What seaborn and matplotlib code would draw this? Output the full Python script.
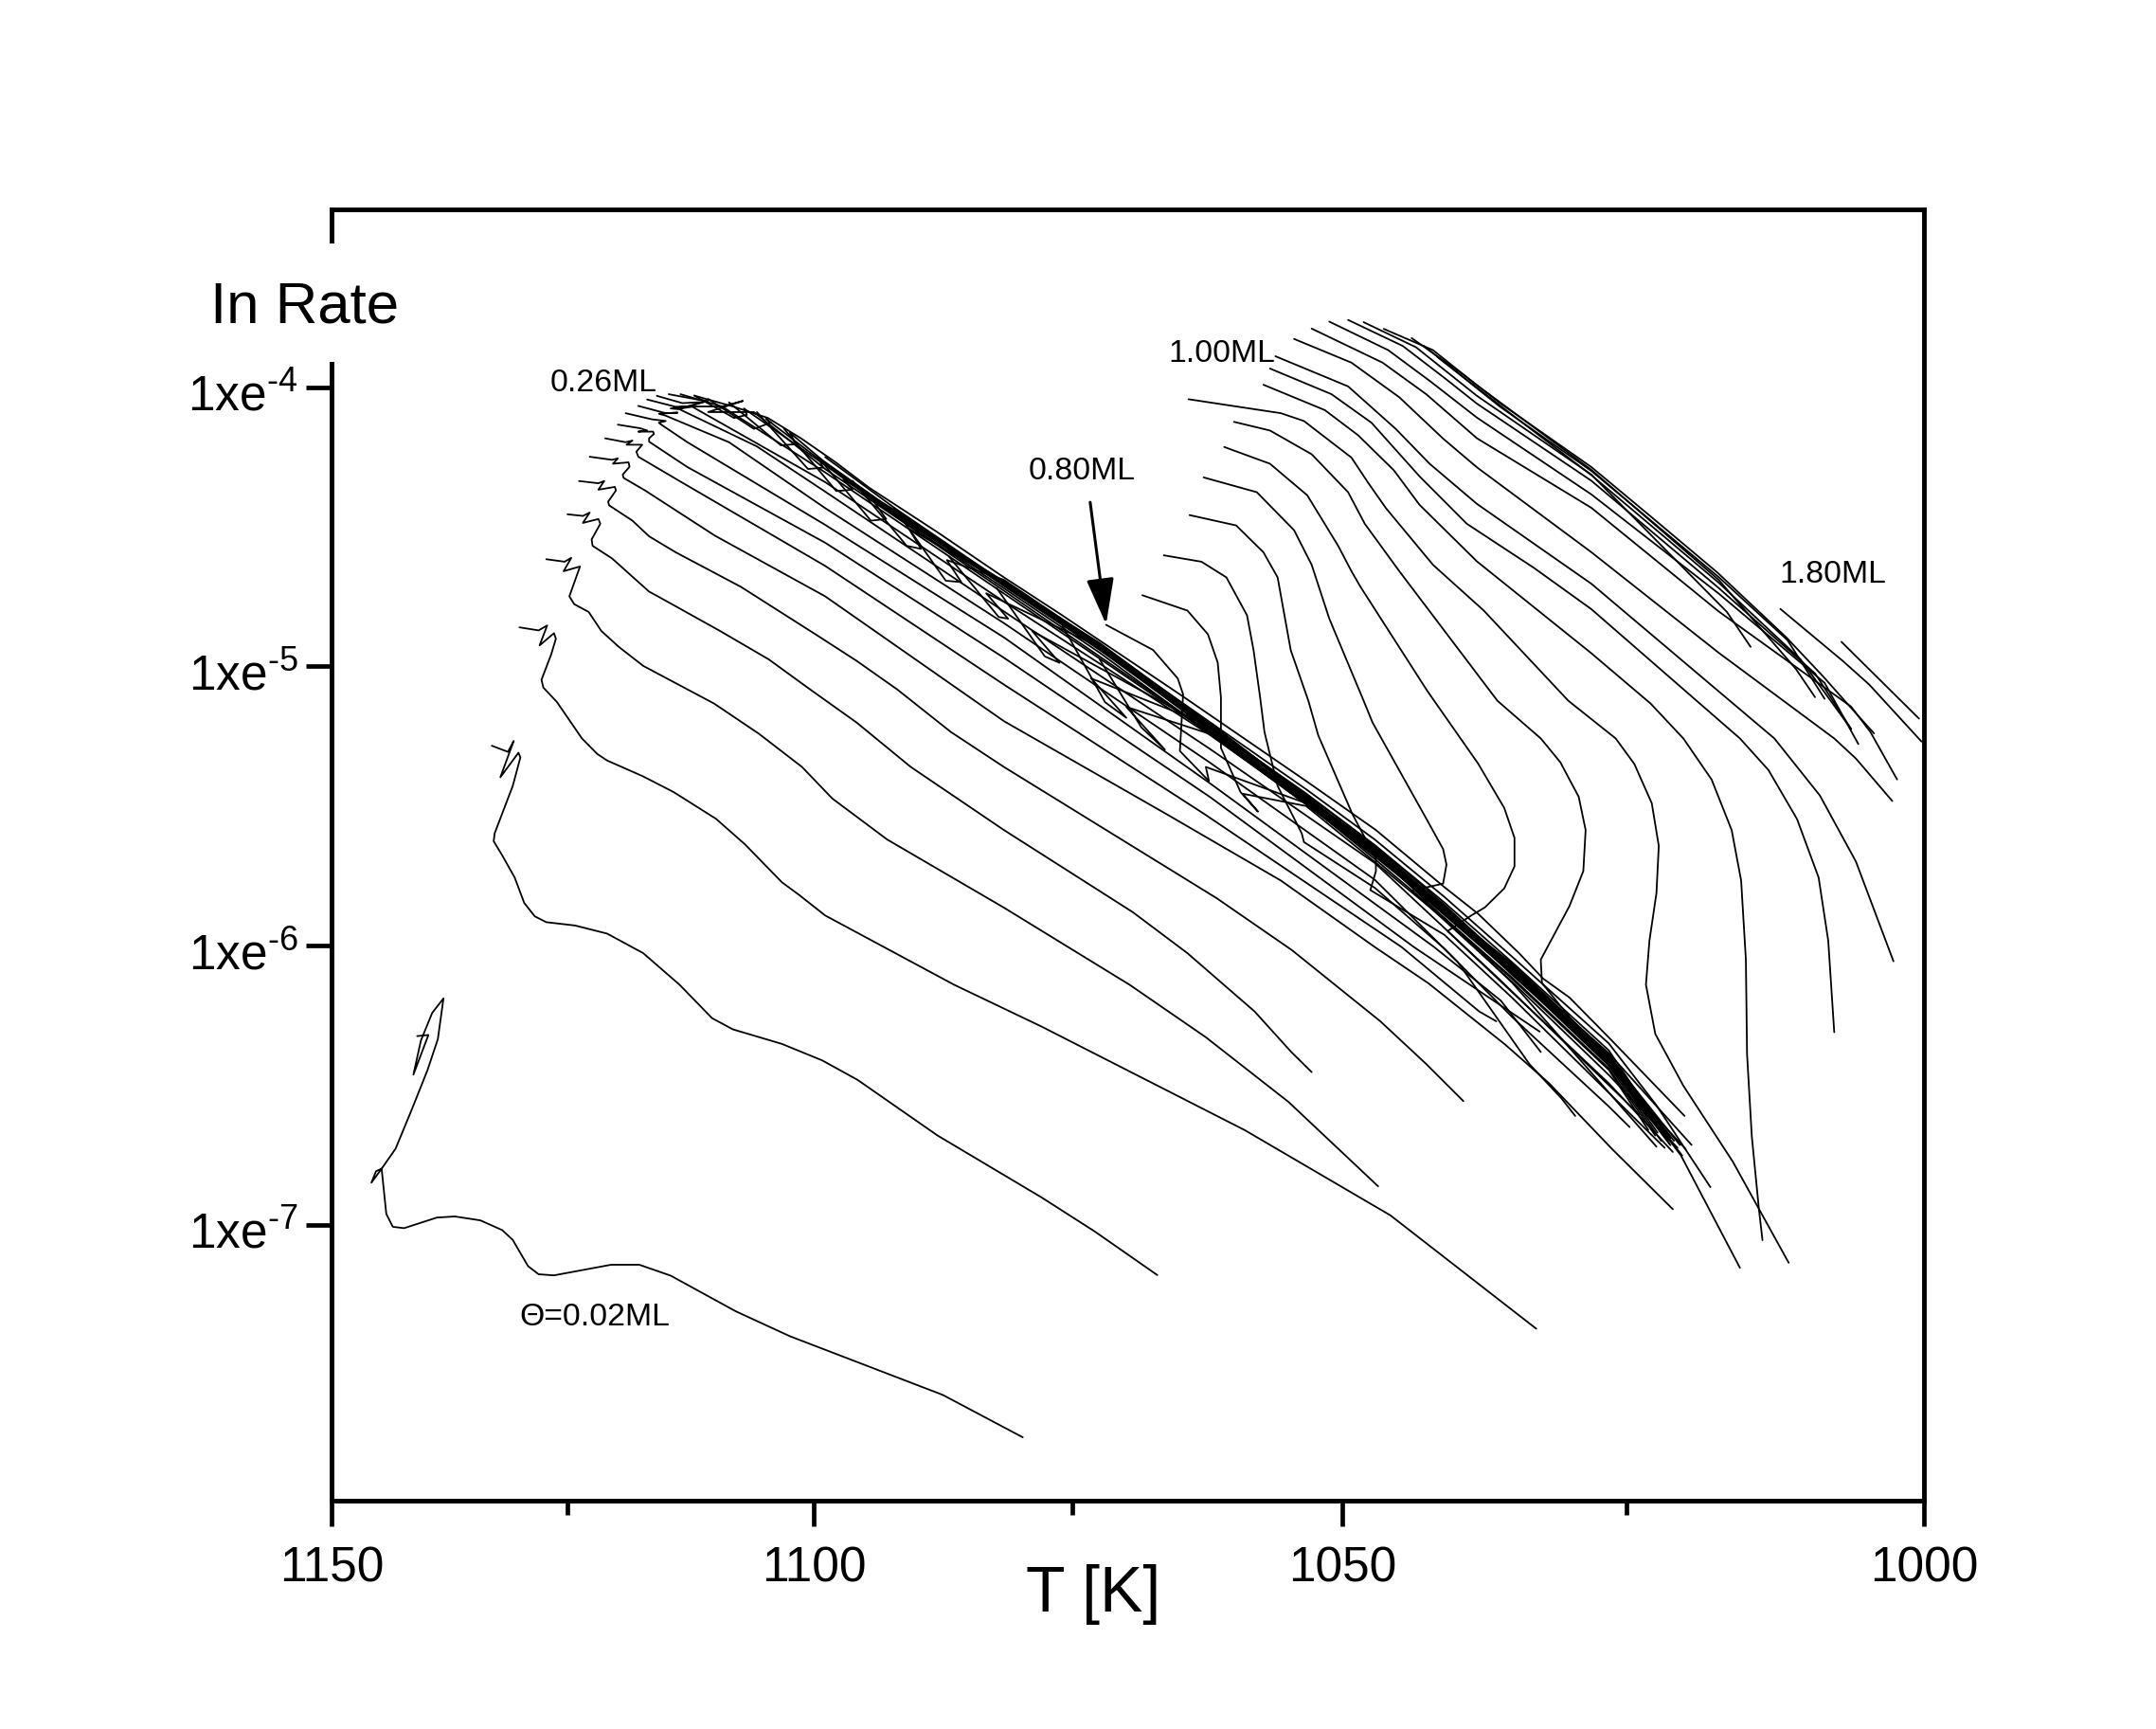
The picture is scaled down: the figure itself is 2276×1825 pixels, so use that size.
import matplotlib
matplotlib.use('Agg')
import matplotlib.pyplot as plt
from matplotlib.patches import Rectangle
from matplotlib.ticker import FixedLocator, FixedFormatter, NullLocator
from matplotlib.transforms import ScaledTranslation
import numpy as np
import pandas as pd
import seaborn as sns

# T in K, r in log10(rate). Labelled by coverage as far as can be counted
t_002 = [1140.8, 1139.6, 1141.2, 1140.4, 1139.2, 1138.0, 1138.6, 1139.7, 1141.3, 1143.1, 1144.6, 1145.7, 1145.2, 1144.6, 1144.1, 1143.4, 1142.2, 1138.7, 1136.8, 1134.1, 1131.8, 1130.7, 1129.1, 1128.0, 1126.4, 1120.5, 1117.6, 1114.4, 1107.8, 1102.4, 1087.4, 1079.7]
r_002 = [-6.324, -6.320, -6.462, -6.340, -6.241, -6.189, -6.335, -6.446, -6.581, -6.727, -6.799, -6.849, -6.808, -6.799, -6.961, -7.007, -7.012, -6.974, -6.970, -6.984, -7.019, -7.054, -7.148, -7.177, -7.181, -7.143, -7.143, -7.182, -7.310, -7.399, -7.609, -7.761]
t_004 = [1132.9, 1131.2, 1130.6, 1132.0, 1130.1, 1129.9, 1130.7, 1132.6, 1132.7, 1131.8, 1130.5, 1129.5, 1128.4, 1127.2, 1124.2, 1120.9, 1117.2, 1113.5, 1110.2, 1108.1, 1103.2, 1099.2, 1095.7, 1087.9, 1077.9, 1072.9, 1067.0]
r_004 = [-5.284, -5.306, -5.267, -5.397, -5.309, -5.326, -5.428, -5.598, -5.626, -5.677, -5.756, -5.847, -5.895, -5.916, -5.928, -5.957, -6.027, -6.140, -6.260, -6.300, -6.352, -6.411, -6.481, -6.680, -6.902, -7.023, -7.180]
t_006 = [1130.0, 1128.0, 1127.1, 1127.9, 1126.4, 1126.2, 1126.7, 1127.7, 1127.5, 1126.1, 1123.5, 1121.9, 1120.9, 1117.2, 1114.1, 1109.8, 1106.9, 1103.2, 1101.5, 1098.9, 1086.3, 1077.9, 1058.9, 1045.7, 1032.8]
r_006 = [-4.860, -4.871, -4.853, -4.925, -4.881, -4.901, -4.958, -5.048, -5.076, -5.127, -5.258, -5.314, -5.337, -5.394, -5.450, -5.546, -5.637, -5.773, -5.818, -5.892, -6.140, -6.290, -6.661, -6.966, -7.372]
t_008 = [1127.2, 1125.3, 1124.6, 1125.4, 1123.7, 1124.8, 1124.3, 1122.8, 1121.5, 1119.7, 1117.2, 1110.0, 1105.5, 1101.2, 1098.2, 1092.8, 1081.5, 1069.6, 1062.5, 1054.9, 1046.8]
r_008 = [-4.616, -4.625, -4.611, -4.659, -4.642, -4.749, -4.777, -4.805, -4.873, -4.930, -4.998, -5.133, -5.241, -5.360, -5.473, -5.620, -5.864, -6.140, -6.328, -6.560, -6.862]
t_010 = [1125.0, 1123.4, 1122.7, 1123.4, 1121.8, 1121.6, 1122.5, 1122.4, 1120.4, 1116.6, 1115.4, 1109.4, 1104.5, 1100.6, 1095.8, 1090.5, 1081.5, 1069.3, 1064.2, 1058.0, 1054.7, 1052.8]
r_010 = [-4.455, -4.461, -4.449, -4.486, -4.472, -4.489, -4.545, -4.568, -4.613, -4.732, -4.755, -4.873, -4.975, -5.077, -5.201, -5.360, -5.586, -5.880, -6.027, -6.236, -6.379, -6.453]
t_012 = [1123.8, 1121.8, 1121.2, 1121.8, 1120.1, 1120.0, 1120.8, 1120.7, 1118.3, 1116.6, 1113.9, 1107.3, 1099.9, 1095.8, 1091.8, 1086.6, 1081.5, 1061.5, 1054.6, 1046.6, 1042.5, 1039.2]
r_012 = [-4.336, -4.344, -4.336, -4.367, -4.357, -4.370, -4.410, -4.423, -4.478, -4.534, -4.591, -4.715, -4.884, -4.980, -5.083, -5.235, -5.360, -5.830, -6.016, -6.271, -6.424, -6.557]
t_014 = [1122.7, 1120.4, 1119.8, 1120.3, 1118.7, 1118.6, 1119.3, 1119.2, 1117.0, 1109.9, 1098.9, 1081.5, 1066.1, 1055.6, 1047.1, 1042.3, 1035.5, 1031.7, 1026.2, 1021.0]
r_014 = [-4.249, -4.260, -4.255, -4.274, -4.269, -4.285, -4.313, -4.325, -4.370, -4.532, -4.749, -5.196, -5.530, -5.767, -6.005, -6.135, -6.355, -6.492, -6.729, -6.944]
t_016 = [1121.1, 1119.0, 1118.3, 1118.9, 1117.3, 1117.9, 1117.7, 1113.5, 1098.9, 1081.5, 1062.7, 1044.7, 1037.8, 1036.3]
r_016 = [-4.183, -4.197, -4.191, -4.206, -4.206, -4.231, -4.249, -4.336, -4.640, -5.065, -5.527, -6.005, -6.236, -6.271]
t_018 = [1119.8, 1117.5, 1116.8, 1117.7, 1116.2, 1116.1, 1116.6, 1116.6, 1112.7, 1098.9, 1081.5, 1062.1, 1043.6, 1032.5]
r_018 = [-4.134, -4.147, -4.155, -4.159, -4.159, -4.167, -4.183, -4.195, -4.286, -4.557, -4.969, -5.468, -6.005, -6.308]
t_020 = [1119.0, 1116.3, 1114.9, 1115.6, 1115.4, 1112.7, 1098.9, 1081.5, 1062.1, 1041.8, 1035.9, 1032.4]
r_020 = [-4.093, -4.115, -4.121, -4.127, -4.133, -4.197, -4.493, -4.896, -5.419, -6.005, -6.197, -6.381]
t_022 = [1117.7, 1114.9, 1113.7, 1115.6, 1114.9, 1108.5, 1098.9, 1081.5, 1062.1, 1047.1, 1039.7, 1033.4, 1030.6, 1029.4]
r_022 = [-4.067, -4.093, -4.091, -4.095, -4.102, -4.197, -4.433, -4.845, -5.345, -5.764, -6.059, -6.424, -6.547, -6.610]
t_024 = [1116.8, 1113.9, 1112.5, 1114.4, 1113.5, 1105.7, 1098.9, 1081.5, 1062.1, 1047.1, 1036.1, 1023.9]
r_024 = [-4.044, -4.070, -4.068, -4.076, -4.079, -4.212, -4.374, -4.803, -5.296, -5.704, -6.118, -6.604]
t_026 = [1115.8, 1113.2, 1111.1, 1113.4, 1112.2, 1098.9, 1081.5, 1062.1, 1047.1, 1034.9, 1022.4]
r_026 = [-4.031, -4.057, -4.053, -4.076, -4.070, -4.340, -4.768, -5.246, -5.665, -6.133, -6.720]

t_028 = [1114.6, 1111.7, 1110.6, 1112.7, 1109.2, 1098.9, 1081.5, 1062.1, 1047.1, 1034.9, 1026.5, 1021.2]
r_028 = [-4.025, -4.044, -4.049, -4.069, -4.069, -4.305, -4.739, -5.241, -5.675, -6.100, -6.420, -6.715]
t_030 = [1113.4, 1109.2, 1107.1, 1110.6, 1106.0, 1098.9, 1081.5, 1062.1, 1047.1, 1034.9, 1026.5, 1020.2]
r_030 = [-4.025, -4.069, -4.049, -4.089, -4.089, -4.293, -4.729, -5.236, -5.665, -6.090, -6.410, -6.752]
t_032 = [1112.0, 1108.0, 1106.7, 1107.0, 1098.9, 1092.1, 1081.5, 1072.4, 1062.1, 1053.3, 1047.1, 1040.9, 1034.9, 1026.5, 1021.5]
r_032 = [-4.030, -4.110, -4.099, -4.076, -4.279, -4.459, -4.720, -4.951, -5.242, -5.494, -5.681, -5.878, -6.105, -6.415, -6.695]
t_034 = [1110.6, 1106.0, 1104.3, 1104.8, 1098.9, 1092.1, 1081.5, 1072.4, 1062.1, 1053.3, 1047.1, 1040.9, 1034.9, 1026.5, 1021.3]
r_034 = [-4.042, -4.149, -4.127, -4.113, -4.275, -4.454, -4.710, -4.941, -5.227, -5.489, -5.666, -5.883, -6.090, -6.425, -6.709]
t_036 = [1108.5, 1103.3, 1101.8, 1102.4, 1098.9, 1092.1, 1081.5, 1072.4, 1062.1, 1053.3, 1047.1, 1040.9, 1034.9, 1026.5, 1022.0]
r_036 = [-4.054, -4.208, -4.204, -4.163, -4.270, -4.449, -4.705, -4.936, -5.232, -5.479, -5.671, -5.868, -6.095, -6.405, -6.660]
t_038 = [1105.7, 1100.6, 1099.1, 1099.6, 1092.1, 1081.5, 1072.4, 1062.1, 1053.3, 1047.1, 1040.9, 1034.9, 1026.5, 1021.5]
r_038 = [-4.089, -4.293, -4.288, -4.251, -4.444, -4.700, -4.931, -5.222, -5.484, -5.661, -5.878, -6.085, -6.415, -6.680]
t_040 = [1103.0, 1097.8, 1096.2, 1097.1, 1092.1, 1081.5, 1072.4, 1062.1, 1053.3, 1047.1, 1040.9, 1034.9, 1026.5, 1020.9]
r_040 = [-4.148, -4.372, -4.367, -4.331, -4.439, -4.700, -4.926, -5.217, -5.469, -5.666, -5.863, -6.090, -6.400, -6.699]
t_042 = [1099.6, 1094.4, 1092.9, 1094.1, 1081.5, 1072.4, 1062.1, 1053.3, 1047.1, 1040.9, 1034.9, 1026.5, 1021.4]
r_042 = [-4.251, -4.478, -4.472, -4.410, -4.695, -4.926, -5.212, -5.474, -5.651, -5.868, -6.075, -6.405, -6.685]
t_044 = [1096.2, 1090.9, 1089.5, 1090.7, 1081.5, 1072.4, 1062.1, 1053.3, 1047.1, 1040.9, 1034.9, 1026.5, 1020.4]
r_044 = [-4.335, -4.568, -4.579, -4.506, -4.700, -4.916, -5.207, -5.464, -5.656, -5.858, -6.085, -6.395, -6.714]
t_046 = [1092.1, 1087.1, 1085.6, 1087.0, 1081.5, 1072.4, 1062.1, 1053.3, 1047.1, 1040.9, 1034.9, 1026.5, 1021.2]
r_046 = [-4.433, -4.693, -4.698, -4.619, -4.690, -4.921, -5.202, -5.469, -5.646, -5.863, -6.070, -6.390, -6.690]
t_048 = [1086.8, 1082.0, 1081.1, 1083.2, 1072.4, 1062.1, 1053.3, 1047.1, 1040.9, 1034.9, 1026.5, 1019.4]
r_048 = [-4.606, -4.823, -4.829, -4.738, -4.931, -5.212, -5.459, -5.641, -5.853, -6.080, -6.385, -6.714]
t_050 = [1082.2, 1077.6, 1076.2, 1078.8, 1062.1, 1053.3, 1047.1, 1040.9, 1034.9, 1026.5, 1021.3]
r_050 = [-4.719, -4.964, -4.987, -4.873, -5.222, -5.479, -5.656, -5.873, -6.065, -6.390, -6.699]
t_052 = [1076.3, 1071.9, 1069.9, 1073.2, 1062.1, 1053.3, 1047.1, 1040.9, 1034.9, 1026.5, 1022.3]
r_052 = [-4.828, -5.128, -5.184, -5.043, -5.212, -5.469, -5.646, -5.868, -6.090, -6.420, -6.670]
t_054 = [1072.4, 1068.5, 1066.3, 1069.9, 1062.1, 1053.3, 1047.1, 1040.9, 1034.9, 1026.5, 1022.0]
r_054 = [-4.975, -5.218, -5.298, -5.145, -5.242, -5.489, -5.676, -5.883, -6.100, -6.430, -6.699]
# upper edge of the bundle
t_056 = [1112.0, 1108.0, 1104.6, 1101.3, 1097.9, 1094.6, 1088.0, 1081.5, 1076.1, 1064.6, 1053.1, 1047.0, 1040.9, 1037.9, 1034.3, 1032.2, 1029.9, 1026.4, 1020.0]
r_056 = [-4.030, -4.070, -4.110, -4.183, -4.268, -4.359, -4.517, -4.681, -4.813, -5.108, -5.416, -5.586, -5.790, -5.886, -6.027, -6.118, -6.186, -6.333, -6.610]
t_058 = [1098.9, 1092.1, 1081.5, 1072.4, 1062.1, 1053.3, 1047.1, 1040.9, 1034.9, 1026.5, 1022.4, 1017.8]
r_058 = [-4.250, -4.432, -4.700, -4.925, -5.200, -5.440, -5.620, -5.825, -6.040, -6.350, -6.572, -6.865]
t_060 = [1092.1, 1081.5, 1072.4, 1062.1, 1053.3, 1047.1, 1040.9, 1034.9, 1026.5, 1021.6, 1020.3, 1015.3]
r_060 = [-4.435, -4.712, -4.940, -5.215, -5.455, -5.640, -5.845, -6.060, -6.375, -6.680, -6.752, -7.154]

t_080 = [1071.8, 1067.4, 1065.1, 1064.6, 1064.9, 1062.2, 1062.5, 1053.3, 1047.1, 1040.9, 1034.9, 1026.5, 1022.5]
r_080 = [-4.851, -4.941, -5.043, -5.100, -5.303, -5.411, -5.360, -5.490, -5.690, -5.900, -6.115, -6.440, -6.680]
t_082 = [1068.4, 1064.2, 1062.3, 1061.4, 1061.1, 1061.1, 1059.3, 1057.7, 1059.1, 1053.3, 1047.1, 1040.9, 1034.9, 1026.5, 1023.1]
r_082 = [-4.745, -4.800, -4.885, -4.986, -5.111, -5.292, -5.450, -5.520, -5.456, -5.500, -5.700, -5.905, -6.120, -6.445, -6.660]
t_084 = [1066.4, 1062.9, 1060.6, 1058.7, 1058.1, 1057.5, 1057.1, 1055.9, 1053.7, 1053.5, 1047.1, 1040.9, 1034.9, 1026.5, 1024.7]
r_084 = [-4.602, -4.625, -4.681, -4.817, -4.942, -5.111, -5.235, -5.428, -5.598, -5.629, -5.793, -6.010, -6.256, -6.576, -6.650]
t_086 = [1064.0, 1059.7, 1057.2, 1055.9, 1054.7, 1053.1, 1052.2, 1049.1, 1047.0, 1047.0, 1047.5, 1040.9, 1034.9, 1026.5, 1021.7]
r_086 = [-4.458, -4.495, -4.591, -4.681, -4.942, -5.123, -5.247, -5.530, -5.688, -5.734, -5.801, -5.961, -6.187, -6.527, -6.724]
t_088 = [1062.7, 1057.8, 1054.4, 1052.8, 1051.2, 1048.1, 1047.3, 1042.4, 1041.0, 1040.7, 1041.0, 1043.8, 1034.9, 1026.5, 1020.6]
r_088 = [-4.323, -4.376, -4.512, -4.636, -4.829, -5.123, -5.201, -5.552, -5.654, -5.710, -5.778, -5.803, -6.130, -6.463, -6.724]
t_090 = [1060.8, 1056.6, 1053.2, 1050.4, 1049.2, 1048.4, 1042.4, 1037.9, 1035.6, 1034.7, 1034.7, 1035.6, 1037.3, 1038.5, 1040.6, 1034.9, 1026.5, 1021.0]
r_090 = [-4.214, -4.274, -4.387, -4.568, -4.659, -4.714, -5.088, -5.348, -5.507, -5.614, -5.716, -5.795, -5.863, -5.892, -5.948, -6.167, -6.493, -6.739]
t_092 = [1059.9, 1056.6, 1052.8, 1049.5, 1048.0, 1044.9, 1036.2, 1032.4, 1030.7, 1029.1, 1028.5, 1028.7, 1029.9, 1032.4, 1032.3, 1026.5, 1019.9]
r_092 = [-4.124, -4.155, -4.240, -4.376, -4.489, -4.659, -5.123, -5.258, -5.343, -5.467, -5.586, -5.733, -5.858, -6.050, -6.134, -6.430, -6.729]
t_094 = [1064.1, 1055.6, 1053.5, 1049.2, 1047.7, 1046.1, 1041.9, 1037.4, 1030.0, 1025.9, 1024.3, 1022.8, 1022.2, 1022.4, 1023.0, 1023.3, 1022.5, 1020.1, 1015.9, 1011.2]
r_094 = [-4.043, -4.093, -4.121, -4.252, -4.342, -4.433, -4.636, -4.800, -5.123, -5.258, -5.349, -5.490, -5.643, -5.812, -5.982, -6.140, -6.316, -6.502, -6.774, -7.136]
t_096 = [1057.2, 1051.6, 1048.6, 1045.4, 1043.1, 1038.0, 1028.0, 1022.9, 1020.1, 1017.7, 1016.0, 1015.2, 1014.8, 1014.7, 1014.3, 1013.7, 1013.4]
r_096 = [-3.991, -4.082, -4.172, -4.297, -4.421, -4.624, -4.953, -5.133, -5.258, -5.405, -5.586, -5.767, -6.050, -6.389, -6.683, -6.944, -7.055]
t_098 = [1056.6, 1051.0, 1047.4, 1043.1, 1038.9, 1033.0, 1028.0, 1015.3, 1012.9, 1010.5, 1008.7, 1007.9, 1007.4]
r_098 = [-3.933, -4.025, -4.127, -4.319, -4.489, -4.647, -4.795, -5.258, -5.371, -5.547, -5.756, -5.982, -6.310]
t_100 = [1056.1, 1049.5, 1045.2, 1042.2, 1038.0, 1028.0, 1012.4, 1008.6, 1005.6, 1002.5]
r_100 = [-3.889, -3.997, -4.150, -4.274, -4.418, -4.704, -5.258, -5.462, -5.699, -6.056]
t_102 = [1054.4, 1049.2, 1044.9, 1041.0, 1038.0, 1028.0, 1017.1, 1007.4, 1005.6, 1002.6]
r_102 = [-3.827, -3.912, -4.036, -4.184, -4.287, -4.591, -4.951, -5.258, -5.330, -5.482]
t_104 = [1052.8, 1046.4, 1042.5, 1038.0, 1028.0, 1017.1, 1006.0, 1004.4, 1002.2]
r_104 = [-3.790, -3.912, -4.025, -4.183, -4.432, -4.803, -5.144, -5.235, -5.405]
t_106 = [1051.2, 1045.9, 1042.1, 1038.0, 1028.0, 1017.1, 1008.2, 1005.4]
r_106 = [-3.765, -3.867, -3.980, -4.109, -4.384, -4.739, -5.059, -5.278]
t_108 = [1049.5, 1044.6, 1040.9, 1038.0, 1028.0, 1017.1, 1009.0, 1006.0]
r_108 = [-3.759, -3.852, -3.966, -4.059, -4.335, -4.719, -5.025, -5.224]
t_110 = [1048.1, 1043.4, 1038.0, 1028.0, 1016.4, 1014.4]
r_110 = [-3.767, -3.857, -4.031, -4.313, -4.805, -4.930]
t_112 = [1046.3, 1041.9, 1038.0, 1028.0, 1017.1, 1010.6, 1009.0]
r_112 = [-3.791, -3.867, -3.993, -4.296, -4.690, -5.009, -5.110]
t_114 = [1043.8, 1039.3, 1035.9, 1028.0, 1022.8, 1017.2, 1011.4, 1008.3, 1006.2, 1004.1]
r_114 = [-3.824, -3.952, -4.059, -4.286, -4.466, -4.664, -4.896, -5.037, -5.139, -5.240]
t_116 = [1042.7, 1036.0, 1028.0, 1017.1, 1011.3, 1008.2]
r_116 = [-3.852, -4.069, -4.300, -4.680, -4.906, -5.116]
t_118 = [1041.5, 1034.9, 1028.0, 1017.1, 1010.2, 1006.0]
r_118 = [-3.892, -4.099, -4.315, -4.700, -4.975, -5.224]
t_170 = [1011.9, 1006.7, 1004.5, 1000.2]
r_170 = [-4.794, -4.980, -5.065, -5.269]
t_180 = [1006.8, 1000.4]
r_180 = [-4.912, -5.187]

curves = [(t_002, r_002), (t_004, r_004), (t_006, r_006), (t_008, r_008), (t_010, r_010), (t_012, r_012),
          (t_014, r_014), (t_016, r_016), (t_018, r_018), (t_020, r_020), (t_022, r_022), (t_024, r_024),
          (t_026, r_026), (t_028, r_028), (t_030, r_030), (t_032, r_032), (t_034, r_034), (t_036, r_036),
          (t_038, r_038), (t_040, r_040), (t_042, r_042), (t_044, r_044), (t_046, r_046), (t_048, r_048),
          (t_050, r_050), (t_052, r_052), (t_054, r_054), (t_056, r_056), (t_058, r_058), (t_060, r_060),
          (t_080, r_080), (t_082, r_082), (t_084, r_084), (t_086, r_086), (t_088, r_088), (t_090, r_090),
          (t_092, r_092), (t_094, r_094), (t_096, r_096), (t_098, r_098), (t_100, r_100), (t_102, r_102),
          (t_104, r_104), (t_106, r_106), (t_108, r_108), (t_110, r_110), (t_112, r_112), (t_114, r_114),
          (t_116, r_116), (t_118, r_118), (t_170, r_170), (t_180, r_180)]

x_major = [1150, 1100, 1050, 1000]
x_minor = [1125, 1075, 1025]
y_ticks = [1e-4, 1e-5, 1e-6, 1e-7]
y_labels = ['1xe$^{\\text{-4}}$', '1xe$^{\\text{-5}}$', '1xe$^{\\text{-6}}$', '1xe$^{\\text{-7}}$']

frames = []
for i, (t, r) in enumerate(curves):
    frames.append(pd.DataFrame({'T': t, 'rate': 10.0 ** np.array(r), 'curve': i}))
df = pd.concat(frames, ignore_index=True)

sns.set_style('white')
plt.rcParams['font.family'] = ['Liberation Sans', 'DejaVu Sans']
plt.rcParams['mathtext.fontset'] = 'custom'
plt.rcParams['mathtext.rm'] = 'Liberation Sans'
plt.rcParams['mathtext.default'] = 'regular'
plt.rcParams['text.color'] = 'black'
plt.rcParams['xtick.color'] = 'black'
plt.rcParams['ytick.color'] = 'black'

fig = plt.figure(figsize=(22.76, 18.25), dpi=100)
ax = fig.add_axes([350 / 2276, 1 - 1584 / 1825, (2031 - 350) / 2276, (1584 - 221) / 1825])

sns.lineplot(data=df, x='T', y='rate', units='curve', estimator=None, sort=False,
             color='black', linewidth=1.3, legend=False, ax=ax)

# the axis runs in 1/T
ax.set_xscale('function', functions=(lambda t: -1.0 / t, lambda v: -1.0 / v))
ax.set_yscale('log')
ax.set_xlim(1150, 1000)
ax.set_ylim(10 ** -7.988, 10 ** -3.363)

ax.xaxis.set_major_locator(FixedLocator(x_major))
ax.xaxis.set_major_formatter(FixedFormatter([str(v) for v in x_major]))
ax.xaxis.set_minor_locator(FixedLocator(x_minor))
ax.xaxis.set_minor_formatter(FixedFormatter([''] * len(x_minor)))
ax.yaxis.set_major_locator(FixedLocator(y_ticks))
ax.yaxis.set_major_formatter(FixedFormatter(y_labels))
ax.yaxis.set_minor_locator(NullLocator())

ax.tick_params(axis='x', which='major', direction='out', bottom=True, length=19.5, width=3.4, labelsize=37, pad=15)
ax.tick_params(axis='x', which='minor', direction='out', bottom=True, length=11, width=3.4)
ax.tick_params(axis='y', which='major', direction='out', left=True, length=19.5, width=3.4, labelsize=37, pad=6)
for s in ax.spines.values():
    s.set_visible(True)
    s.set_linewidth(3.5)
    s.set_color('black')
ax.set_xlabel('')
ax.set_ylabel('')

fig.canvas.draw()
for lab in ax.get_yticklabels():
    lab.set_transform(lab.get_transform() + ScaledTranslation(0, -4 / 72, fig.dpi_scale_trans))

# gap in the left axis where the y title sits
ax.add_patch(Rectangle((-0.01, (1584 - 382) / 1363), 0.02, (382 - 257) / 1363, transform=ax.transAxes,
                       facecolor='white', edgecolor='none', clip_on=False, zorder=10))
fig.text(222 / 2276, 1 - 325 / 1825, 'In Rate', fontsize=44.5, ha='left', va='center')
fig.text(1154 / 2276, 1 - 1683 / 1825, 'T [K]', fontsize=49, ha='center', va='center')

ax.text(1126.8, 10 ** -3.985, '0.26ML', fontsize=24.3, va='center')
ax.text(1066.0, 10 ** -3.882, '1.00ML', fontsize=24.3, va='center')
ax.text(1079.2, 10 ** -4.301, '0.80ML', fontsize=24.3, va='center')
ax.text(1012.0, 10 ** -4.670, '1.80ML', fontsize=24.3, va='center')
ax.text(1130.0, 10 ** -7.330, '\u0398=0.02ML', fontsize=24.3, va='center')
ax.annotate('', xy=(1071.8, 10 ** -4.849), xytext=(1073.3, 10 ** -4.412),
            arrowprops=dict(arrowstyle='-|>,head_length=1.5,head_width=0.45', color='black', lw=2.2,
                            shrinkA=0, shrinkB=0, mutation_scale=20))

fig.savefig('out.png', dpi=100, facecolor='white')
